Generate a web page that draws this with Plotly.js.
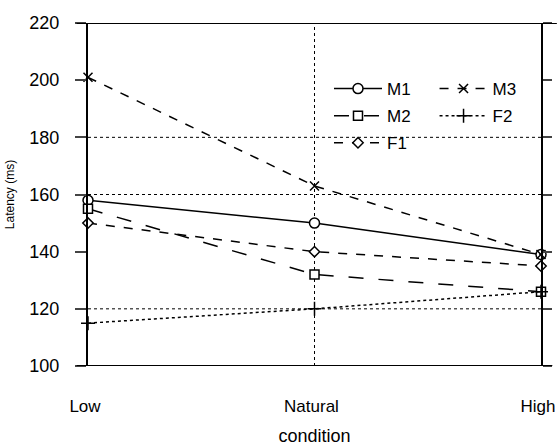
<!DOCTYPE html>
<html><head><meta charset="utf-8">
<script src="https://cdn.plot.ly/plotly-3.0.1.min.js"></script>
<style>html,body{margin:0;padding:0;background:#fff}</style>
</head><body><div id="chart" style="width:557px;height:446px"></div>
<script>
const conditions = ["Low", "Natural", "High"];
const M1 = [158, 150, 139];
const M2 = [155, 132, 126];
const F1 = [150, 140, 135];
const M3 = [201, 163, 139];
const F2 = [115, 120, 126];
const yTicks = [100, 120, 140, 160, 180, 200, 220];
const gridValues = [120, 160, 180];

const font = "Liberation Sans, Arial, Helvetica, sans-serif";
function tr(name, y, dash, symbol, size, legend, group) {
  return {x: conditions, y: y, name: name, type: "scatter", mode: "lines+markers",
    line: {color: "#000", width: 1.5, dash: dash},
    marker: {symbol: symbol, size: size, color: "#fff", line: {color: "#000", width: 1.5}},
    legend: legend, legendgroup: group, cliponaxis: false};
}
const data = [
  tr("M1", M1, "solid", "circle", 10, "legend", "a"),
  tr("M2", M2, "longdash", "square", 9, "legend", "b"),
  tr("F1", F1, "dash", "diamond", 8, "legend", "c"),
  tr("M3", M3, "dash", "x-thin", 9, "legend2", "d"),
  tr("F2", F2, "dot", "cross-thin", 10, "legend2", "e")
];
const shapes = gridValues.map(v => ({type: "line", xref: "paper", yref: "y", x0: 0, x1: 1, y0: v, y1: v,
  line: {color: "#000", width: 1, dash: "dot"}, layer: "below"}));
shapes.push({type: "line", xref: "x", yref: "paper", x0: "Natural", x1: "Natural", y0: 0, y1: 1,
  line: {color: "#000", width: 1, dash: "dot"}, layer: "below"});
shapes.push({type: "line", xref: "paper", yref: "y", x0: -0.025, x1: 1.035, y0: 220, y1: 220, line: {color: "#000", width: 2}});
shapes.push({type: "line", xref: "paper", yref: "y", x0: -0.025, x1: 1.025, y0: 100, y1: 100, line: {color: "#000", width: 2}});

const legendBase = {font: {family: font, size: 17, color: "#000"}, bgcolor: "rgba(0,0,0,0)",
  traceorder: "grouped", tracegroupgap: 2, itemwidth: 48, yanchor: "top", xanchor: "left"};
const layout = {
  width: 557, height: 446,
  margin: {l: 88, r: 16, t: 23, b: 80},
  paper_bgcolor: "#fff", plot_bgcolor: "#fff",
  font: {family: font, color: "#000"},
  showlegend: true,
  legend: Object.assign({x: 0.532, y: 0.86}, legendBase),
  legend2: Object.assign({x: 0.765, y: 0.86}, legendBase),
  xaxis: {type: "category", range: [0, 2], showgrid: false, zeroline: false, showline: false,
    ticks: "", ticklabelstandoff: 28, ticklabelshift: -3, tickfont: {family: font, size: 17},
    title: {text: "condition", font: {family: font, size: 18}, standoff: 14}},
  yaxis: {range: [100, 220], tickvals: yTicks, showgrid: false, zeroline: false,
    showline: true, linewidth: 2, linecolor: "#000", ticks: "outside", ticklen: 11, tickwidth: 2,
    tickfont: {family: font, size: 18}, ticklabelstandoff: 12,
    title: {text: "Latency (ms)", font: {family: font, size: 12}, standoff: 12}},
  yaxis2: {overlaying: "y", side: "right", range: [100, 220], tickvals: yTicks, showticklabels: false,
    showgrid: false, zeroline: false, showline: true, linewidth: 2, linecolor: "#000",
    ticks: "outside", ticklen: 9, tickwidth: 2},
  shapes: shapes
};
data.push({x: conditions, y: M1, yaxis: "y2", mode: "none", showlegend: false, hoverinfo: "skip", type: "scatter"});
Plotly.newPlot("chart", data, layout, {displayModeBar: false, staticPlot: true});
</script></body></html>
